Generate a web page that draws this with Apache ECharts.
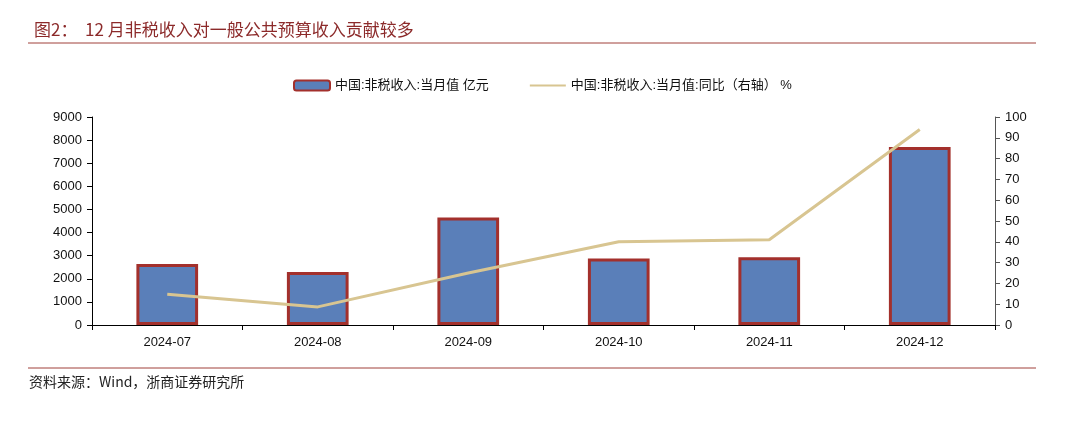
<!DOCTYPE html>
<html>
<head>
<meta charset="utf-8">
<script src="https://cdn.jsdelivr.net/npm/echarts@6/dist/echarts.min.js"></script>
<style>
html,body{margin:0;padding:0;background:#fff;}
#main{width:1080px;height:431px;}
</style>
</head>
<body>
<div id="main"></div>
<script>
// 月份
var months = ['2024-07', '2024-08', '2024-09', '2024-10', '2024-11', '2024-12'];
// 非税收入当月值 亿元
var nonTaxValue = [2640, 2290, 4650, 2880, 2930, 7700];
// 同比 %（右轴）
var nonTaxYoy = [14.8, 8.7, 25, 40, 41, 94];

function plainNum(v) { return String(v); }

var chart = echarts.init(document.getElementById('main'));
var option = {
    backgroundColor: '#fff',
    animation: false,
    title: {
        text: '图2：  12 月非税收入对一般公共预算收入贡献较多',
        left: 29,
        top: 16,
        textStyle: {
            color: '#8c2a2a',
            fontSize: 17,
            fontWeight: 'normal',
            fontFamily: 'Noto Sans CJK SC'
        }
    },
    graphic: [
        {type: 'line', shape: {x1: 28, y1: 43, x2: 1036, y2: 43}, style: {stroke: '#a0403a', lineWidth: 1}},
        {type: 'line', shape: {x1: 28, y1: 368, x2: 1036, y2: 368}, style: {stroke: '#a0403a', lineWidth: 1}},
        {type: 'text', left: 29, top: 375, style: {text: '资料来源：Wind，浙商证券研究所', fill: '#222', font: '14px "Noto Sans CJK SC"'}}
    ],
    legend: {
        top: 74,
        left: 288,
        itemGap: 40,
        itemWidth: 36,
        itemHeight: 10,
        textStyle: {color: '#111', fontSize: 13, fontFamily: 'Liberation Sans, Noto Sans CJK SC'},
        data: [
            {name: '中国:非税收入:当月值 亿元'},
            {name: '中国:非税收入:当月值:同比（右轴） %', itemStyle: {opacity: 0}}
        ]
    },
    grid: {left: 92, right: 85, top: 117, bottom: 106},
    xAxis: {
        type: 'category',
        data: months,
        axisLine: {lineStyle: {color: '#000'}},
        axisTick: {show: true, length: 5, lineStyle: {color: '#000'}},
        axisLabel: {color: '#111', fontSize: 13, margin: 11, fontFamily: 'Liberation Sans'}
    },
    yAxis: [
        {
            type: 'value',
            min: 0, max: 9000, interval: 1000,
            splitLine: {show: false},
            axisLine: {show: true, lineStyle: {color: '#000'}},
            axisTick: {show: true, length: 5, lineStyle: {color: '#000'}},
            axisLabel: {color: '#111', fontSize: 13, margin: 10, fontFamily: 'Liberation Sans', formatter: plainNum}
        },
        {
            type: 'value',
            min: 0, max: 100, interval: 10,
            splitLine: {show: false},
            axisLine: {show: true, lineStyle: {color: '#555'}},
            axisTick: {show: true, length: 5, lineStyle: {color: '#555'}},
            axisLabel: {color: '#111', fontSize: 13, margin: 10, fontFamily: 'Liberation Sans', formatter: plainNum}
        }
    ],
    series: [
        {
            name: '中国:非税收入:当月值 亿元',
            type: 'bar',
            barWidth: '41%',
            data: nonTaxValue,
            itemStyle: {color: '#5a7fb9', borderColor: '#a3302c', borderWidth: 3}
        },
        {
            name: '中国:非税收入:当月值:同比（右轴） %',
            type: 'line',
            yAxisIndex: 1,
            data: nonTaxYoy,
            symbol: 'none',
            lineStyle: {color: '#d8c591', width: 3},
            itemStyle: {color: '#d8c591'}
        }
    ]
};
chart.setOption(option);
</script>
</body>
</html>
